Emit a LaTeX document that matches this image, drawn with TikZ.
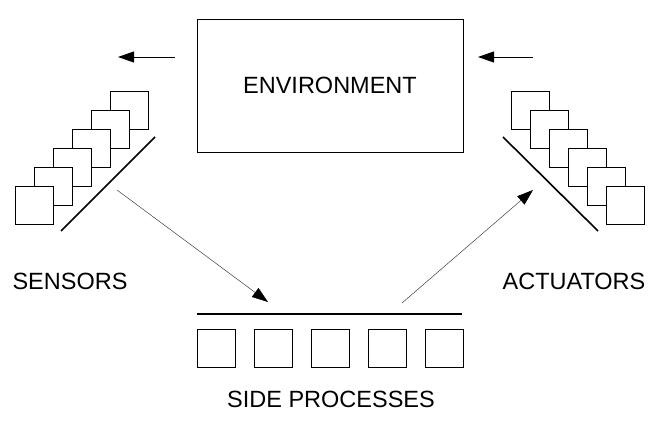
\documentclass[tikz,border=0pt]{standalone}
\usepackage{fontspec}
\setmainfont{Liberation Sans}
\usetikzlibrary{arrows.meta, positioning}

\begin{document}
\begin{tikzpicture}[
  x=1pt, y=-1pt,
  sq/.style={draw, fill=white, line width=0.9pt, minimum size=38pt, inner sep=0pt, outer sep=0pt},
  bar/.style={line width=1.6pt},
  lbl/.style={font=\fontsize{23.5}{28}\selectfont, inner sep=0pt},
  fat/.style={-{Triangle[length=16pt, width=11pt]}, line width=0.9pt},
  slim/.style={-{Triangle[length=16pt, width=11pt, color=black]}, line width=0.5pt, draw=black!75},
]
  \useasboundingbox (0,0) rectangle (662,435);

  % Environment
  \node[draw, line width=0.9pt, minimum width=266pt, minimum height=133pt, lbl] (ENV) at (330,85.5) {ENVIRONMENT};

  % Sensors (top square first, lower ones in front)
  \node[sq] (S1) at (129.5,110) {};
  \node[sq, anchor=north east] (S2) at (S1.center) {};
  \node[sq, anchor=north east] (S3) at (S2.center) {};
  \node[sq, anchor=north east] (S4) at (S3.center) {};
  \node[sq, anchor=north east] (S5) at (S4.center) {};
  \node[sq, anchor=north east] (S6) at (S5.center) {};
  \node[lbl] (SEN) at (70,281) {SENSORS};

  % Actuators
  \node[sq] (A1) at (530.5,110) {};
  \node[sq, anchor=north west] (A2) at (A1.center) {};
  \node[sq, anchor=north west] (A3) at (A2.center) {};
  \node[sq, anchor=north west] (A4) at (A3.center) {};
  \node[sq, anchor=north west] (A5) at (A4.center) {};
  \node[sq, anchor=north west] (A6) at (A5.center) {};
  \node[lbl] (ACT) at (574,281) {ACTUATORS};

  % Side processes
  \node[sq] (P1) at (216,348) {};
  \node[sq, right=19pt of P1] (P2) {};
  \node[sq, right=19pt of P2] (P3) {};
  \node[sq, right=19pt of P3] (P4) {};
  \node[sq, right=19pt of P4] (P5) {};
  \node[lbl] (SIDE) at (331,399) {SIDE PROCESSES};

  % Bars
  \coordinate (sb1) at (61,231);  \coordinate (sb2) at (155,137);
  \coordinate (ab1) at (503,137); \coordinate (ab2) at (598,231);
  \coordinate (pb1) at (197,314); \coordinate (pb2) at (462,314);
  \draw[bar] (sb1) -- (sb2);
  \draw[bar] (ab1) -- (ab2);
  \draw[bar] (pb1) -- (pb2);

  % Arrows
  \coordinate (el1) at (175,57);  \coordinate (el2) at (118,57);
  \coordinate (er1) at (533,57);  \coordinate (er2) at (478,57);
  \coordinate (s1) at (117,190);  \coordinate (s2) at (268,302);
  \coordinate (a1) at (402,303);  \coordinate (a2) at (533,190);
  \draw[fat] (el1) -- (el2);
  \draw[fat] (er1) -- (er2);
  \draw[slim] (s1) -- (s2);
  \draw[slim] (a1) -- (a2);
\end{tikzpicture}
\end{document}
